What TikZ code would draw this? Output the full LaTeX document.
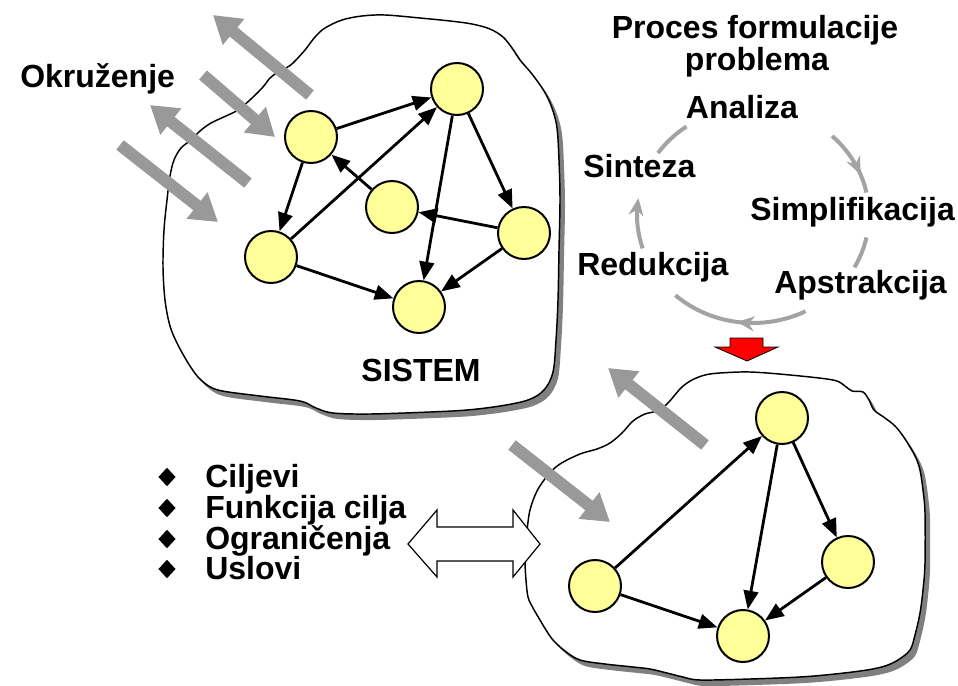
\documentclass[tikz,border=0pt]{standalone}
\usepackage{fontspec}
\setmainfont{Liberation Sans}
\usetikzlibrary{arrows.meta,shapes.geometric}

\definecolor{nodefill}{HTML}{FFFF99}
\definecolor{flowgray}{HTML}{999999}
\definecolor{cyclegray}{HTML}{A3A3A3}
\definecolor{shadowgray}{HTML}{808080}

% outlines of the two systems
\def\systemA{(293,63) (305,50) (315,37) (325,28) (342,20) (362,16) (385,15) (420,18) (450,21) (472,24) (490,29) (503,37) (512,48) (520,60) (532,74) (544,91) (552,108) (557,128) (559,160) (560,200) (559,250) (558,300) (556,340) (553,372) (544,390) (528,400) (500,406) (467,410) (430,412) (370,414) (333,413) (316,408) (300,401) (260,396) (218,390) (201,380) (190,366) (178,345) (170,326) (165,300) (163,267) (164,230) (167,200) (170,176) (174,160) (181,148) (191,140) (200,131) (211,123) (226,116) (238,110) (251,99) (263,87) (270,78) (278,72) (286,68)}
\def\systemB{(527,530) (530,510) (537,491) (548,475) (560,464) (580,454) (597,449) (610,443) (622,433) (633,421) (645,414) (657,411) (667,404) (674,396) (682,387) (692,380) (705,375) (720,373) (750,372) (790,375) (833,380) (845,386) (852,391) (863,392) (869,400) (874,410) (885,418) (895,426) (903,436) (910,447) (916,458) (920,470) (923,490) (925,513) (925,563) (923,590) (920,613) (915,635) (910,650) (898,660) (885,666) (867,670) (835,674) (800,677) (750,679) (700,680) (683,677) (667,673) (650,669) (633,667) (605,664) (580,660) (565,651) (553,640) (546,630) (540,620) (533,608) (528,597) (526,580) (525,563) (525,545)}

\begin{document}
\begin{tikzpicture}[x=0.75pt,y=-0.75pt,
  vertex/.style={circle, draw=black, line width=1.5pt, fill=nodefill, minimum size=39pt, inner sep=0pt},
  link/.style={line width=2.1pt, -{Triangle[length=14pt,width=11pt]}},
  flow/.style={draw=flowgray, line width=9pt, -{Triangle[length=20pt,width=24pt]}},
  cyc/.style={draw=cyclegray, line width=3pt},
  cyctip/.style={cyc, -{Stealth[length=13pt,width=11pt,inset=4pt]}},
  lbl/.style={font=\fontsize{24}{28}\selectfont\bfseries, inner sep=0pt},
  bulletmark/.style={diamond, fill=black, minimum width=13pt, minimum height=14pt, inner sep=0pt},
  outline/.style={draw=black, line width=1.1pt, fill=white},
  shade/.style={fill=shadowgray}
]
\useasboundingbox (0,0) rectangle (958,686);

% first system with drop shadow
\fill[shade, shift={(5,6)}] plot[smooth cycle, tension=0.55] coordinates {\systemA};
\draw[outline] plot[smooth cycle, tension=0.55] coordinates {\systemA};

% second system with drop shadow
\fill[shade, shift={(5,6)}] plot[smooth cycle, tension=0.55] coordinates {\systemB};
\draw[outline] plot[smooth cycle, tension=0.55] coordinates {\systemB};

% graph of the first system
\node[vertex] (a) at (311,137) {};
\node[vertex] (b) at (457,89) {};
\node[vertex] (c) at (392,207) {};
\node[vertex] (d) at (271,257) {};
\node[vertex] (e) at (524,233) {};
\node[vertex] (f) at (419,307) {};
\draw[link] (a) -- (b);
\draw[link] (a) -- (d);
\draw[link] (c) -- (a);
\draw[link] (d) -- (b);
\draw[link] (d) -- (f);
\draw[link] (b) -- (f);
\draw[link] (b) -- (e);
\draw[link] (e) -- (c);
\draw[link] (e) -- (f);

% graph of the second system
\node[vertex] (p) at (782,418) {};
\node[vertex] (q) at (595,586) {};
\node[vertex] (r) at (848,562) {};
\node[vertex] (s) at (743,636) {};
\draw[link] (q) -- (p);
\draw[link] (p) -- (s);
\draw[link] (p) -- (r);
\draw[link] (q) -- (s);
\draw[link] (r) -- (s);

% exchange with the environment
\coordinate (o1s) at (310,95);  \coordinate (o1e) at (213,15);
\coordinate (i1s) at (203,75);  \coordinate (i1e) at (275,137);
\coordinate (o2s) at (248,183); \coordinate (o2e) at (150,105);
\coordinate (i2s) at (120,145); \coordinate (i2e) at (218,222);
\coordinate (o3s) at (705,445); \coordinate (o3e) at (608,368);
\coordinate (i3s) at (512,445); \coordinate (i3e) at (610,522);
\draw[flow] (o1s) -- (o1e);
\draw[flow] (i1s) -- (i1e);
\draw[flow] (o2s) -- (o2e);
\draw[flow] (i2s) -- (i2e);
\draw[flow] (o3s) -- (o3e);
\draw[flow] (i3s) -- (i3e);

% labels
\node[lbl, anchor=base west] (env) at (20,87) {Okruženje};
\node[lbl, anchor=base] (sys) at (421,381) {SISTEM};
\node[lbl, anchor=base] (title1) at (755,38) {Proces formulacije};
\node[lbl, anchor=base] (title2) at (757,70) {problema};
\node[lbl, anchor=base] (an) at (742,118) {Analiza};
\node[lbl, anchor=base west] (si) at (583,177) {Sinteza};
\node[lbl, anchor=base west] (sm) at (750,220) {Simplifikacija};
\node[lbl, anchor=base west] (re) at (577,275) {Redukcija};
\node[lbl, anchor=base west] (ap) at (774,293) {Apstrakcija};

% formulation cycle (ellipse centred at (753,215))
\draw[cyc] plot[domain=145:125, samples=10] ({753+116*cos(\x)},{215-108*sin(\x)});
\draw[cyctip] plot[domain=47:22, samples=12] ({753+116*cos(\x)},{215-108*sin(\x)});
\draw[cyc] plot[domain=25:12, samples=6] ({753+116*cos(\x)},{215-108*sin(\x)});
\draw[cyc] plot[domain=-12:-29, samples=8] ({753+116*cos(\x)},{215-108*sin(\x)});
\draw[cyctip] plot[domain=-63:-98, samples=14] ({753+116*cos(\x)},{215-108*sin(\x)});
\draw[cyc] plot[domain=-95:-132, samples=14] ({753+116*cos(\x)},{215-108*sin(\x)});
\draw[cyctip] plot[domain=-162:-189, samples=10] ({753+116*cos(\x)},{215-108*sin(\x)});

% transition to the formulated problem
\draw[fill=red, draw=black, line width=0.6pt] (730,338) -- (763,338) -- (763,347) -- (778,347) -- (747,361) -- (715,347) -- (730,347) -- cycle;

% list of problem elements
\node[bulletmark] (m1) at (167,477) {};
\node[bulletmark] (m2) at (167,508) {};
\node[bulletmark] (m3) at (167,539) {};
\node[bulletmark] (m4) at (167,569) {};
\node[lbl, anchor=base west] (l1) at (205,487) {Ciljevi};
\node[lbl, anchor=base west] (l2) at (205,518) {Funkcija cilja};
\node[lbl, anchor=base west] (l3) at (205,549) {Ograničenja};
\node[lbl, anchor=base west] (l4) at (205,579) {Uslovi};

% correspondence arrow
\draw[fill=white, draw=black, line width=0.9pt] (408,544) -- (437,510) -- (437,527) -- (513,527) -- (513,510) -- (540,544) -- (513,577) -- (513,561) -- (437,561) -- (437,577) -- cycle;
\end{tikzpicture}
\end{document}
